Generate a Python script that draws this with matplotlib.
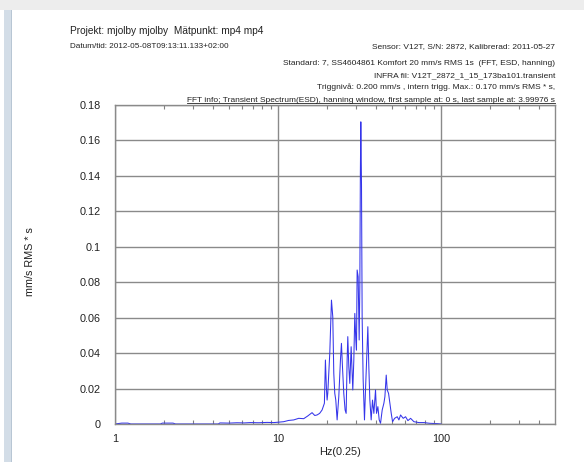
import matplotlib
matplotlib.use("Agg")
import matplotlib.pyplot as plt
from matplotlib.patches import Rectangle
from matplotlib.lines import Line2D
from matplotlib.ticker import FixedLocator, NullFormatter

plt.rcParams['font.family'] = ['Liberation Sans', 'DejaVu Sans']

# ---------------- data ----------------
freq_hz = [1.0, 1.1, 1.2, 1.25, 1.9, 1.95, 2.1, 2.27, 2.35, 4.3, 4.4, 5.0, 5.6, 6.2, 6.76,
           7.6, 8.55, 9.4, 10.0, 10.83, 11.6, 12.48, 13.39, 14.37, 15.2, 16.17, 16.8, 17.36,
           18.0, 18.63, 19.25, 19.53, 19.81, 20.0, 20.19, 20.77, 21.27, 21.67, 21.98, 22.29,
           22.61, 23.04, 23.59, 24.15, 24.49, 24.85, 25.31, 25.79, 26.17, 26.54, 26.79,
           27.18, 27.56, 28.09, 28.49, 28.75, 29.17, 29.58, 30.0, 30.28, 30.57, 31.01,
           31.46, 31.75, 32.0, 32.2, 32.51, 32.81, 33.28, 33.91, 34.4, 34.89, 35.56, 36.06,
           36.58, 37.27, 37.98, 38.71, 39.63, 40.2, 40.97, 41.75, 42.54, 43.55, 44.6, 45.24,
           46.1, 46.75, 47.64, 48.55, 49.48, 50.42, 51.87, 53.86, 55.15, 56.45, 58.62,
           60.59, 62.62, 65.03, 68.17, 73.15, 78.55, 85.0, 95.0, 100.0]
esd_values = [0.0, 0.0005, 0.0005, 0.0, 0.0, 0.0005, 0.0005, 0.0005, 0.0, 0.0, 0.0006, 0.0005,
              0.0007, 0.0006, 0.0008, 0.0007, 0.0009, 0.0008, 0.0010, 0.0013, 0.0020, 0.0023,
              0.0032, 0.0030, 0.0045, 0.0064, 0.0048, 0.0051, 0.0060, 0.0079, 0.0117, 0.0361,
              0.0200, 0.0135, 0.0173, 0.0399, 0.0699, 0.0605, 0.0286, 0.0173, 0.0135, 0.0023,
              0.0154, 0.0361, 0.0455, 0.0323, 0.0173, 0.0079, 0.0060, 0.0361, 0.0493, 0.0323,
              0.0229, 0.0436, 0.0286, 0.0192, 0.0361, 0.0624, 0.0474, 0.0417, 0.0869, 0.0831,
              0.0474, 0.0775, 0.1423, 0.1705, 0.1350, 0.0600, 0.0250, 0.0023, 0.0192, 0.0342,
              0.0549, 0.0323, 0.0135, 0.0023, 0.0135, 0.0060, 0.0192, 0.0060, 0.0098, 0.0023,
              0.0004, 0.0079, 0.0117, 0.0154, 0.0276, 0.0192, 0.0173, 0.0117, 0.0060, 0.0013,
              0.0032, 0.0041, 0.0023, 0.0051, 0.0032, 0.0041, 0.0019, 0.0032, 0.0013, 0.0008,
              0.0008, 0.0004, 0.0002, 0.0]

y_ticks = [0, 0.02, 0.04, 0.06, 0.08, 0.1, 0.12, 0.14, 0.16, 0.18]
y_tick_labels = ["0", "0.02", "0.04", "0.06", "0.08", "0.1", "0.12", "0.14", "0.16", "0.18"]
x_ticks = [1, 10, 100]
x_tick_labels = ["1", "10", "100"]
x_minor = [2, 3, 4, 5, 6, 7, 8, 9, 20, 30, 40, 50, 60, 70, 80, 90, 200, 300, 400]

title = "Projekt: mjolby mjolby  Mätpunkt: mp4 mp4"
datum = "Datum/tid: 2012-05-08T09:13:11.133+02:00"
right_lines = [
    "Sensor: V12T, S/N: 2872, Kalibrerad: 2011-05-27",
    "Standard: 7, SS4604861 Komfort 20 mm/s RMS 1s  (FFT, ESD, hanning)",
    "INFRA fil: V12T_2872_1_15_173ba101.transient",
    "Triggnivå: 0.200 mm/s , intern trigg. Max.: 0.170 mm/s RMS * s,",
]
fft_info = "FFT info; Transient Spectrum(ESD), hanning window, first sample at: 0 s, last sample at: 3.99976 s"
y_label = "mm/s RMS * s"
x_label = "Hz(0.25)"

# ---------------- figure ----------------
W, H = 584, 462
fig = plt.figure(figsize=(W / 100, H / 100), dpi=100)
fig.patch.set_facecolor("white")

def px(x, y):
    return x / W, 1 - y / H

# screenshot chrome
fig.add_artist(Rectangle((0, 1 - 10 / H), 1, 10 / H, transform=fig.transFigure,
                         facecolor="#ededed", edgecolor="none", zorder=0))
fig.add_artist(Rectangle((4 / W, 0), 8 / W, 1 - 10 / H, transform=fig.transFigure,
                         facecolor="#d3dde7", edgecolor="none", zorder=0))
fig.add_artist(Rectangle((11 / W, 0), 1.2 / W, 1 - 10 / H, transform=fig.transFigure,
                         facecolor="#b8c6d4", edgecolor="none", zorder=0))

ax = fig.add_axes([115 / W, 38 / H, 440 / W, 319 / H])
ax.plot(freq_hz, esd_values, color="#3535ea", lw=0.75, zorder=2)
ax.set_xscale("log")
ax.set_xlim(1, 500)
ax.set_ylim(0, 0.18)

ax.xaxis.set_major_locator(FixedLocator(x_ticks))
ax.set_xticklabels(x_tick_labels)
ax.xaxis.set_minor_locator(FixedLocator(x_minor))
ax.xaxis.set_minor_formatter(NullFormatter())
ax.yaxis.set_major_locator(FixedLocator(y_ticks))
ax.set_yticklabels(y_tick_labels)

ax.tick_params(axis="x", which="major", length=0, pad=7, labelsize=7.8, colors="#222222")
ax.tick_params(axis="x", which="minor", direction="in", length=3, top=True, bottom=True,
               color="#808080", width=0.8)
ax.tick_params(axis="y", which="major", length=0, pad=10, labelsize=7.8, colors="#222222")

ax.grid(True, which="major", axis="both", color="#8a8a8a", lw=1.0)
ax.set_axisbelow(True)
for s in ax.spines.values():
    s.set_color("#8a8a8a")
    s.set_linewidth(1.0)
    s.set_zorder(2.5)

# texts
fig.text(*px(70, 34), title, fontsize=7.3, color="#222222", va="baseline", ha="left")
fig.text(*px(70, 48), datum, fontsize=5.9, color="#222222", va="baseline", ha="left")
baselines = [48, 65, 77, 89]
for s, b in zip(right_lines, baselines):
    fig.text(*px(555, b), s, fontsize=6.0, color="#222222", va="baseline", ha="right")
t_fft = fig.text(*px(555, 101.5), fft_info, fontsize=6.0, color="#222222",
                 va="baseline", ha="right", zorder=5)

fig.text(*px(30, 262), y_label, fontsize=7.8, rotation=90, color="#222222",
         ha="center", va="center")
fig.text(*px(340, 452), x_label, fontsize=7.8, color="#222222", ha="center", va="center")

# underline the FFT info line
renderer = fig.canvas.get_renderer()
bb = t_fft.get_window_extent(renderer=renderer)
fig.add_artist(Line2D([bb.x0 / W, bb.x1 / W], [1 - 103 / H, 1 - 103 / H],
                      transform=fig.transFigure, color="#222222", lw=0.6, zorder=5))

fig.savefig("out.png", dpi=100, facecolor="white")
